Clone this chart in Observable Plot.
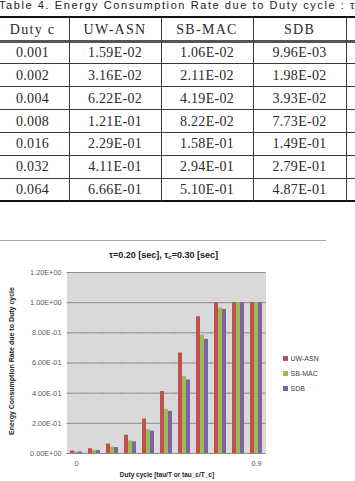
<!DOCTYPE html>
<html><head><meta charset="utf-8">
<script src="https://cdn.jsdelivr.net/npm/d3@7"></script>
<script src="https://cdn.jsdelivr.net/npm/@observablehq/plot@0.6"></script>
<style>
html,body{margin:0;padding:0;background:#fff;}
#root{position:relative;width:355px;height:481px;overflow:hidden;font-family:"Liberation Sans",Arial,sans-serif;}
.abs{position:absolute;}
.cell{position:absolute;font-family:"Liberation Serif","DejaVu Serif",serif;font-size:14px;line-height:14px;height:14px;color:#2a2a2a;text-align:center;white-space:nowrap;transform:translateX(-50%);}
.lg-swatch{margin:0 !important;padding:0 !important;height:14.6px;display:flex !important;align-items:center;}
.lg-swatch svg{margin-right:2.5px !important;}
</style></head><body><div id="root"></div>
<script>
// ---- table data ----
const tableCaption = "Table 4. Energy Consumption Rate due to Duty cycle : τ";
const tableHeader = ["Duty c", "UW-ASN", "SB-MAC", "SDB", ""];
const tableDuty = ["0.001", "0.002", "0.004", "0.008", "0.016", "0.032", "0.064"];
const tableUW  = ["1.59E-02", "3.16E-02", "6.22E-02", "1.21E-01", "2.29E-01", "4.11E-01", "6.66E-01"];
const tableSB  = ["1.06E-02", "2.11E-02", "4.19E-02", "8.22E-02", "1.58E-01", "2.94E-01", "5.10E-01"];
const tableSDB = ["9.96E-03", "1.98E-02", "3.93E-02", "7.73E-02", "1.49E-01", "2.79E-01", "4.87E-01"];

// ---- chart data ----
const chartTitleMain = "τ=0.20 [sec], τ";
const chartTitleSub = "c";
const chartTitleEnd = "=0.30 [sec]";
const yTitle = "Energy Consumption Rate due to Duty cycle";
const xTitle = "Duty cycle [tau/T or tau_c/T_c]";
const groups = ["0.001", "0.002", "0.004", "0.008", "0.016", "0.032", "0.064", "0.128", "0.256", "0.512", "0.9"];
const xTickLabels = ["0", "", "", "", "", "", "", "", "", "", "0.9"];
const seriesNames = ["UW-ASN", "SB-MAC", "SDB"];
const uwAsn = [0.0159, 0.0316, 0.0622, 0.121, 0.229, 0.411, 0.666, 0.907, 1.0, 1.0, 1.0];
const sbMac = [0.0106, 0.0211, 0.0419, 0.0822, 0.158, 0.294, 0.510, 0.783, 0.965, 1.0, 1.0];
const sdb   = [0.00996, 0.0198, 0.0393, 0.0773, 0.149, 0.279, 0.487, 0.757, 0.955, 1.0, 1.0];
const yTicks = [0, 0.2, 0.4, 0.6, 0.8, 1.0, 1.2];
const yTickLabels = ["0.00E+00", "2.00E-01", "4.00E-01", "6.00E-01", "8.00E-01", "1.00E+00", "1.20E+00"];
const colors = ["#C0504D", "#9BBB59", "#8064A2"];

const root = document.getElementById("root");
function add(html, css) {
  const d = document.createElement("div");
  d.className = "abs";
  d.innerHTML = html;
  Object.assign(d.style, css);
  root.appendChild(d);
  return d;
}

// ---- caption ----
const cap = add("", {left: "-1px", top: "0px", fontSize: "11px", lineHeight: "11px", color: "#222", whiteSpace: "nowrap"});
cap.textContent = tableCaption;
{
  const natural = cap.getBoundingClientRect().width;
  const ls = (357 - natural) / tableCaption.length;
  cap.style.letterSpacing = ls + "px";
}

// ---- table ----
const colEdges = [-4, 69, 161, 253, 346, 440];
const rowTop = 17, headerBottom = 41, rowH = (201 - 41) / 7;
const lineColor = "#3a3a3a";
add("", {left: "0px", top: "16px", width: "355px", height: "2px", background: "#111"});
add("", {left: "0px", top: "39.5px", width: "355px", height: "3px", background: "#555"});
for (let k = 1; k < 7; k++) add("", {left: "0px", top: (headerBottom + rowH * k - 0.5) + "px", width: "355px", height: "1px", background: lineColor});
add("", {left: "0px", top: "199.5px", width: "355px", height: "2px", background: "#111"});
for (let c = 1; c < 5; c++) add("", {left: (colEdges[c] - 0.5) + "px", top: "17px", width: "1px", height: "184px", background: lineColor});
function cellText(txt, col, cy, ls) {
  const d = document.createElement("div");
  d.className = "cell";
  d.textContent = txt;
  d.style.left = ((colEdges[col] + colEdges[col + 1]) / 2) + "px";
  d.style.top = (cy - 7) + "px";
  d.style.letterSpacing = ls + "px";
  root.appendChild(d);
}
tableHeader.forEach((h, c) => cellText(h, c, 29.5, 1.3));
const cols = [tableDuty, tableUW, tableSB, tableSDB];
for (let r = 0; r < 7; r++) {
  const cy = headerBottom + rowH * (r + 0.5) + 0.5;
  cols.forEach((arr, c) => cellText(arr[r], c, cy, 0.3));
}

// ---- chart separator ----
add("", {left: "0px", top: "240px", width: "326px", height: "1px", background: "#aaa"});

// ---- chart title ----
add(`${chartTitleMain}<sub style="font-size:6px;vertical-align:-1px">${chartTitleSub}</sub>${chartTitleEnd}`,
  {left: "163.5px", top: "250px", transform: "translateX(-50%)", fontSize: "9px", lineHeight: "11px", fontWeight: "bold", color: "#1a1a1a", whiteSpace: "nowrap"});

// ---- bars ----
const data = [];
groups.forEach((g, i) => {
  data.push({group: g, series: seriesNames[0], value: uwAsn[i]});
  data.push({group: g, series: seriesNames[1], value: sbMac[i]});
  data.push({group: g, series: seriesNames[2], value: sdb[i]});
});

const chart = Plot.plot({
  width: 355,
  height: 219,
  marginTop: 10,
  marginBottom: 28,
  marginLeft: 63,
  marginRight: 86,
  style: {fontFamily: "'Liberation Sans', Arial, sans-serif", color: "#595959", background: "transparent", overflow: "visible"},
  fx: {domain: groups, paddingInner: 0.32, paddingOuter: 0.16, label: null},
  x: {domain: seriesNames, padding: 0, axis: null},
  y: {domain: [0, 1.2]},
  color: {domain: seriesNames, range: colors},
  marks: [
    Plot.frame({fill: "#D9D9D9", insetLeft: -3.5, insetRight: -3.5}),
    Plot.ruleY(yTicks, {stroke: "#8c8c8c", strokeWidth: 1, insetLeft: -3.5, insetRight: -3.5}),
    Plot.barY(data, {fx: "group", x: "series", y: "value", fill: "series"}),
    Plot.axisY(yTicks, {tickFormat: d => yTickLabels[yTicks.indexOf(d)], tickSize: 0, tickPadding: 9, fontSize: 7.3, label: null}),
    Plot.axisFx({anchor: "bottom", tickFormat: d => xTickLabels[groups.indexOf(d)], tickSize: 0, tickPadding: 7, fontSize: 7.3, label: null})
  ]
});
chart.style.position = "absolute";
chart.style.left = "0px";
chart.style.top = "262px";
root.appendChild(chart);

// ---- axis titles ----
add(yTitle, {left: "12px", top: "361px", transform: "translate(-50%,-50%) rotate(-90deg)", fontSize: "7px", lineHeight: "8px", fontWeight: "bold", color: "#222", whiteSpace: "nowrap"});
add(xTitle, {left: "167px", top: "471px", transform: "translateX(-50%)", fontSize: "6.5px", lineHeight: "8px", fontWeight: "bold", color: "#222", whiteSpace: "nowrap"});

// ---- legend ----
const lg = chart.legend("color", {legend: "swatches", columns: 1, swatchSize: 5, className: "lg"});
lg.style.position = "absolute";
lg.style.left = "283px";
lg.style.top = "351.7px";
lg.style.margin = "0";
lg.style.fontSize = "7px";
lg.style.fontFamily = "'Liberation Sans', Arial, sans-serif";
lg.style.color = "#404040";
lg.style.width = "60px";
root.appendChild(lg);
</script>
</body></html>
